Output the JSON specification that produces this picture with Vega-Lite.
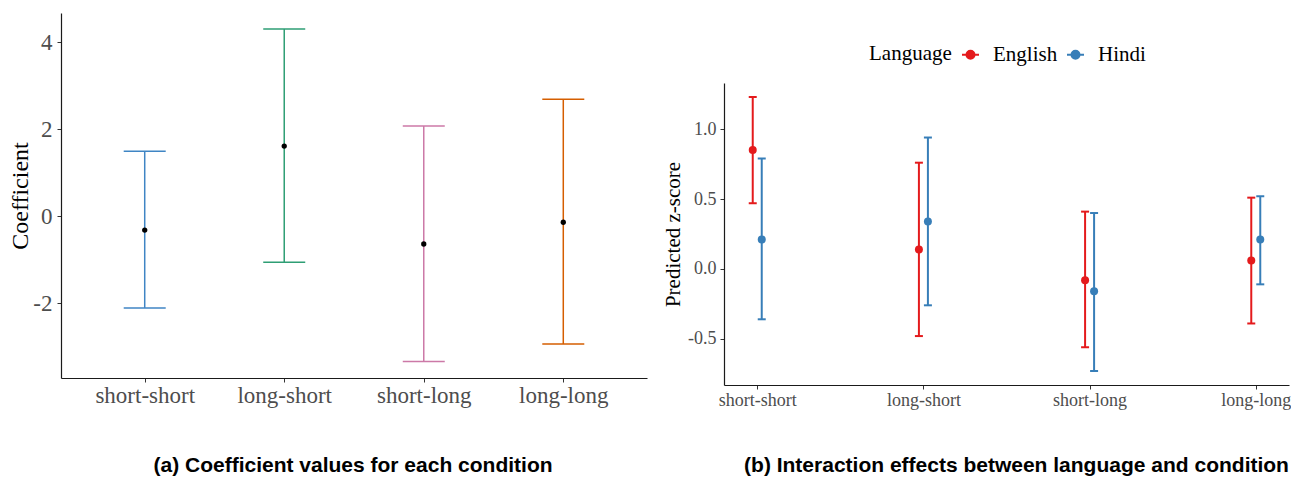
{
  "$schema": "https://vega.github.io/schema/vega-lite/v6.json",
  "background": "white",
  "padding": {"left": 8, "top": 13, "right": 0, "bottom": 0},
  "spacing": 15,
  "config": {
    "view": {"stroke": null},
    "axis": {
      "grid": false,
      "domainColor": "#1a1a1a",
      "domainWidth": 1.2,
      "tickColor": "#333333",
      "tickSize": 4,
      "labelColor": "#4D4D4D",
      "labelFont": "Liberation Serif",
      "titleFont": "Liberation Serif",
      "titleFontWeight": "normal",
      "titleColor": "#000000"
    }
  },
  "resolve": {"scale": {"color": "independent"}},
  "datasets": {
    "coef": [
      {"condition": "short-short", "coef": -0.32, "lower": -2.11, "upper": 1.49},
      {"condition": "long-short", "coef": 1.61, "lower": -1.06, "upper": 4.30},
      {"condition": "short-long", "coef": -0.64, "lower": -3.34, "upper": 2.07},
      {"condition": "long-long", "coef": -0.14, "lower": -2.94, "upper": 2.69}
    ],
    "pred": [
      {"condition": "short-short", "Language": "English", "pred": 0.85, "lower": 0.47, "upper": 1.23},
      {"condition": "short-short", "Language": "Hindi", "pred": 0.21, "lower": -0.36, "upper": 0.79},
      {"condition": "long-short", "Language": "English", "pred": 0.14, "lower": -0.48, "upper": 0.76},
      {"condition": "long-short", "Language": "Hindi", "pred": 0.34, "lower": -0.26, "upper": 0.94},
      {"condition": "short-long", "Language": "English", "pred": -0.08, "lower": -0.56, "upper": 0.41},
      {"condition": "short-long", "Language": "Hindi", "pred": -0.16, "lower": -0.73, "upper": 0.40},
      {"condition": "long-long", "Language": "English", "pred": 0.06, "lower": -0.39, "upper": 0.51},
      {"condition": "long-long", "Language": "Hindi", "pred": 0.21, "lower": -0.11, "upper": 0.52}
    ]
  },
  "hconcat": [
    {
      "width": 586,
      "height": 365,
      "data": {"name": "coef"},
      "title": {
        "text": "(a) Coefficient values for each condition",
        "orient": "bottom",
        "anchor": "middle",
        "font": "Liberation Sans",
        "fontSize": 21,
        "fontWeight": "bold",
        "color": "#000000",
        "offset": 48,
        "dx": -1
      },
      "encoding": {
        "x": {
          "field": "condition",
          "type": "nominal",
          "sort": ["short-short", "long-short", "short-long", "long-long"],
          "scale": {"type": "point", "padding": 0.6},
          "axis": {"title": null, "labelAngle": 0, "labelFontSize": 23, "labelPadding": 2}
        }
      },
      "layer": [
        {
          "mark": {"type": "rule", "strokeWidth": 1.5},
          "encoding": {
            "y": {
              "field": "lower",
              "type": "quantitative",
              "scale": {"domain": [-3.72, 4.67], "nice": false, "zero": false},
              "axis": {
                "title": "Coefficient",
                "values": [-2, 0, 2, 4],
                "labelExpr": "replace(datum.label, '\u2212', '-')",
                "labelFontSize": 23,
                "titleFontSize": 24,
                "labelPadding": 5,
                "titlePadding": 0
              }
            },
            "y2": {"field": "upper"},
            "color": {
              "field": "condition",
              "type": "nominal",
              "scale": {
                "domain": ["short-short", "long-short", "short-long", "long-long"],
                "range": ["#3F85C4", "#2E9E74", "#CC79A7", "#D55E00"]
              },
              "legend": null
            }
          }
        },
        {
          "mark": {"type": "tick", "orient": "horizontal", "size": 42, "thickness": 1.5, "opacity": 1},
          "encoding": {
            "y": {"field": "lower", "type": "quantitative"},
            "color": {"field": "condition", "type": "nominal", "legend": null}
          }
        },
        {
          "mark": {"type": "tick", "orient": "horizontal", "size": 42, "thickness": 1.5, "opacity": 1},
          "encoding": {
            "y": {"field": "upper", "type": "quantitative"},
            "color": {"field": "condition", "type": "nominal", "legend": null}
          }
        },
        {
          "mark": {"type": "point", "filled": true, "size": 28, "color": "#000000", "opacity": 1},
          "encoding": {
            "y": {"field": "coef", "type": "quantitative"}
          }
        }
      ]
    },
    {
      "width": 565,
      "height": 372,
      "data": {"name": "pred"},
      "title": {
        "text": "(b) Interaction effects between language and condition",
        "orient": "bottom",
        "anchor": "middle",
        "font": "Liberation Sans",
        "fontSize": 21,
        "fontWeight": "bold",
        "color": "#000000",
        "offset": 46,
        "dx": 10
      },
      "encoding": {
        "x": {
          "field": "condition",
          "type": "nominal",
          "sort": ["short-short", "long-short", "short-long", "long-long"],
          "scale": {"type": "point", "padding": 0.2},
          "axis": {"title": null, "labelAngle": 0, "labelFontSize": 18, "labelPadding": 2}
        },
        "xOffset": {
          "field": "Language",
          "type": "nominal",
          "scale": {"type": "point", "range": [-4.5, 4.5], "padding": 0}
        },
        "color": {
          "field": "Language",
          "type": "nominal",
          "scale": {"domain": ["English", "Hindi"], "range": ["#E41A1C", "#377EB8"]},
          "legend": {
            "orient": "none",
            "legendX": 145,
            "legendY": 31,
            "padding": 0,
            "direction": "horizontal",
            "title": "Language",
            "titleOrient": "left",
            "titleFont": "Liberation Serif",
            "titleFontSize": 21,
            "titleFontWeight": "normal",
            "titleColor": "#000000",
            "titlePadding": 8,
            "labelFont": "Liberation Serif",
            "labelFontSize": 21,
            "labelColor": "#000000",
            "labelOffset": 12,
            "columnPadding": 5,
            "symbolType": "M-1,0L1,0M0.47,0A0.47,0.47,0,1,1,-0.47,0A0.47,0.47,0,1,1,0.47,0Z",
            "symbolSize": 289,
            "symbolStrokeWidth": 2,
            "encode": {
              "symbols": {
                "update": {
                  "fill": {"scale": "concat_1_color", "field": "value"},
                  "stroke": {"scale": "concat_1_color", "field": "value"},
                  "strokeWidth": {"value": 2},
                  "opacity": {"value": 1}
                }
              }
            }
          }
        }
      },
      "layer": [
        {
          "mark": {"type": "rule", "strokeWidth": 2},
          "encoding": {
            "y": {
              "field": "lower",
              "type": "quantitative",
              "scale": {"domain": [-0.83, 1.33], "nice": false, "zero": false, "range": [372, 70]},
              "axis": {
                "title": "Predicted z-score",
                "values": [-0.5, 0, 0.5, 1],
                "format": ".1f",
                "labelExpr": "replace(datum.label, '\u2212', '-')",
                "labelFontSize": 18,
                "titleFontSize": 21,
                "labelPadding": 4,
                "titlePadding": 4
              }
            },
            "y2": {"field": "upper"}
          }
        },
        {
          "mark": {"type": "tick", "orient": "horizontal", "size": 8, "thickness": 2, "opacity": 1},
          "encoding": {"y": {"field": "lower", "type": "quantitative"}}
        },
        {
          "mark": {"type": "tick", "orient": "horizontal", "size": 8, "thickness": 2, "opacity": 1},
          "encoding": {"y": {"field": "upper", "type": "quantitative"}}
        },
        {
          "mark": {"type": "point", "filled": true, "size": 64, "opacity": 1},
          "encoding": {"y": {"field": "pred", "type": "quantitative"}}
        }
      ]
    }
  ]
}
